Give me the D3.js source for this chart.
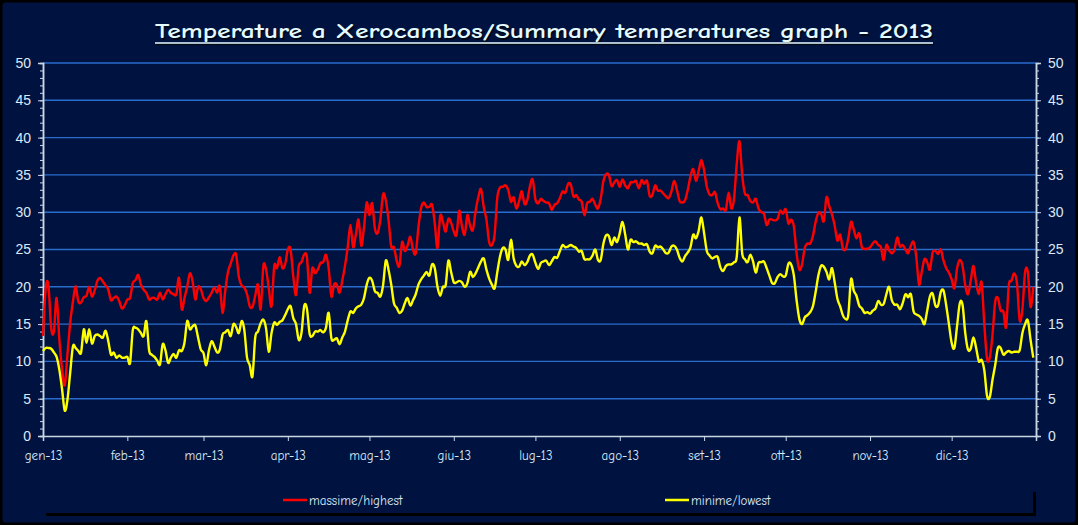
<!DOCTYPE html>
<html>
<head>
<meta charset="utf-8">
<script src="https://cdn.jsdelivr.net/npm/d3@7/dist/d3.min.js"></script>
<style>
  html, body { margin: 0; padding: 0; background: #ffffff; }
  svg { display: block; }
</style>
</head>
<body>
<svg id="chart" width="1078" height="525"></svg>
<script>
// ---------------- DATA ----------------
const titleText = "Temperature a Xerocambos/Summary temperatures graph - 2013";
const startDate = Date.UTC(2013, 0, 1);
const monthLabels = ["gen-13","feb-13","mar-13","apr-13","mag-13","giu-13","lug-13","ago-13","set-13","ott-13","nov-13","dic-13"];
const yTicks = [0,5,10,15,20,25,30,35,40,45,50];
const seriesNames = ["massime/highest", "minime/lowest"];

// daily maximum temperatures (1 Jan .. 31 Dec 2013)
const highs = [
13.4,19.8,20.2,14.5,14,18.5,13,9,6.8,11,15.2,18,20.1,18,17.9,18.6,18.8,20,18.7,19.5,
20.8,21.2,20.7,20.2,19.6,18.2,18.5,18.7,18.1,17.1,17.5,18.3,18.5,20.5,20.9,21.6,20.3,19.6,19.2,18.3,
18.5,18.5,18.3,19.2,18.3,19,19.6,19.2,19,19,21.2,17,18.5,20,21.8,20.7,18.3,20,19.7,18.5,
18.1,18.6,19.2,19.9,19.2,20.1,16.5,19.5,22,23.1,24.2,24.3,21.3,20.2,19.9,19,17.4,17.3,18.8,20.3,
17,22.8,22.3,19.8,17.4,22.8,22.5,24,22.5,23,25,25,21.4,18.9,22.7,23.3,24.3,24,19.2,22.5,
21.8,22.3,23.2,23.3,24.3,22.5,18.7,20.3,20.3,19.2,20.8,22.8,25.3,28.3,25.3,27,29,25.5,28,31.3,
29.6,31.2,27.8,27.2,29,32.4,31.6,29,25.4,25.3,23.5,22.8,26,24.8,25.5,26.7,25,24.5,28,30.6,
31.3,30.7,30.7,31,28.5,25.2,29.5,28.7,27.4,29.1,28.6,27.4,27,30.2,28.1,27,29.6,28.2,27.6,30.1,
32,33.1,30.7,29,26,25.6,27,32,33.3,33.4,33.6,33,31.4,32,30.5,31.5,32.8,31.1,31.6,33.5,
34.4,31.7,31.2,31.8,31.5,31.3,31.2,30.3,31,31.2,31.9,32.8,32.6,33.8,33.7,32.1,32.3,31.7,31.4,29.6,
31.2,31.4,31.8,31,30.5,31.8,34.2,35.1,35,33.5,34,34.3,33.4,34.4,33.6,33.2,34,34,34.2,33.2,
34.3,33.8,34.2,32.2,32.3,33.6,32.9,32.9,32.5,32.1,31.9,32.8,34.2,33,31.5,31.3,31.6,33,34.8,35.8,
34.2,35.5,37,35.6,33.4,32.4,32.3,32.7,31.2,30.4,30.5,30.3,32.6,30.5,31.8,36.5,39.5,35,32.5,32.3,
31.5,31.3,31.8,30.5,30,29.8,28.3,29,29,28.9,29.1,30.2,29.8,30.4,28.5,29,28.1,24.5,22.3,23,
25.2,25.8,25.8,26.8,28.7,29.9,29.8,28.8,32,30.8,29.7,28.2,26.2,27,25.2,25,26.5,28.7,27.7,26.5,
27.2,25.3,25.1,25.1,25.3,25.8,26.1,25.6,25.3,23.6,25.6,24.9,24.5,25,26.6,25.4,25.6,25,24.5,25.5,
26,24,20.3,22,23.7,23.3,22.3,24.6,24.8,24.4,25,23.5,22.5,21.9,21,19.8,22.5,23.6,22.8,20.2,
19,20.8,22.8,20.5,19,20.6,15,10.4,10.5,13.5,18,18.5,16.8,16.7,14.6,20.2,20.8,21.8,20.5,15.5,
17,22,22,17.3,20
];

// daily minimum temperatures (1 Jan .. 31 Dec 2013)
const lows = [
11.4,11.8,11.8,11.7,11.2,10.6,8.9,6.3,3.4,4.9,8.5,12,11.8,11.4,11.2,14.3,12.5,14.3,12.4,13.4,
13.6,13.4,13.2,14.1,12.7,10.9,11.2,10.5,10.8,10.5,10.5,10.6,9.8,14.2,14.5,14.3,13.8,13.4,15.4,11.5,
10.9,10.6,10.1,9.6,12.3,11.5,9.8,10.5,11,10.5,11.5,11.4,12.5,15.4,14.3,14.7,14.8,13.2,11.6,11.1,
9.5,11.5,12.7,12,11.2,11.6,13.6,13.9,14.2,13.4,15,14.6,13.8,15.4,14.2,10.5,9.5,8,13.2,14,
15.1,15.6,14.4,11.3,13.8,15.2,14.9,15.3,15.5,16.2,17,17.4,15.8,15,12.9,13.8,17.4,17.1,13.7,13.4,
14,14,14.2,13.9,14.5,16.5,13.1,12.9,13.1,12.3,13.2,14,15.5,16.7,16.5,17.1,17.4,17.6,18.5,20.3,
21.2,20.8,19.4,19.2,18.7,20.2,23.5,22.3,20.3,17.8,17.2,16.5,16.8,17.8,18.5,17.5,18.2,19,20.3,21,
21.5,22,21.5,23,22.5,20,18.8,20,20.2,23.5,22,20.6,20.6,20.8,20.6,20,20.5,22,21.3,21.8,
22.6,23.4,23.8,22.3,21.1,20.3,19.8,22,24.1,25.2,25,23.6,26.3,23.8,22.8,22.7,23.4,22.9,23.3,24.2,
24.3,23.2,22.4,23.2,23.4,23.5,22.9,23.4,24,23.9,24.8,25.6,25.3,25.4,25.6,25.4,25.2,24.7,24.8,23.7,
23.7,23.7,24.2,25,23.6,23.6,25.8,26.9,26.8,25.6,26.6,26,27.2,28.7,27,25,26.3,26,26.1,25.8,
25.8,25.6,25.7,24.7,24.5,25.5,25.3,25.4,25,24.5,24.6,25.4,25.5,25,23.9,23.4,24.1,24.6,25.3,27,
26.5,27.5,29.3,27.2,24.8,24.2,23.8,24,24,22.6,22.1,22.8,23,23,23.3,24,29.3,24.5,23.7,23.3,
24.3,23.4,21.9,23.2,23.3,23.4,22.5,21.5,20.5,20.5,21.3,21.7,21.4,21.5,23.1,23,21.5,18.2,15.7,15,
15.9,16.2,16.6,17.4,19.3,21.5,22.8,22.7,22,21,22.5,20.6,18.4,17.4,16.2,15.7,16.2,21,19.5,18.8,
17.5,17.1,16.5,16.6,16.4,16.8,17.1,18.1,17.6,17.7,19,20,18.2,17.6,17.6,17,17.8,19,18.6,19,
16.7,16.3,16.1,15.7,15,16.8,18.7,19.1,17.5,17.5,19.3,19.5,17.5,15,12.5,11.8,14.8,17.8,17.6,13.8,
11.6,11.7,13.2,11.8,10,10.2,8.8,5.4,5.2,7.5,9.5,11.8,11.8,10.9,11.2,11.4,11.2,11.3,11.3,11.5,
13.8,15,15.5,12.9,10.5
];

// ---------------- LAYOUT ----------------
const W = 1078, H = 525;
const plot = { left: 43, right: 1036, top: 63, bottom: 436 };
const bg = "#001340";
const textCol = "#dbe9f7";
const gridCol = "#2a6ccc";
const axisCol = "#c9d6e4";

const svg = d3.select("#chart");

// background + outer frame
svg.append("rect").attr("x", 0).attr("y", 0).attr("width", W).attr("height", H).attr("fill", "#000000");
svg.append("rect").attr("x", 1.5).attr("y", 1.5).attr("width", W - 3).attr("height", H - 3)
   .attr("rx", 4).attr("fill", bg).attr("stroke", "#000000").attr("stroke-width", 2);

const x = d3.scaleUtc()
  .domain([startDate, d3.utcDay.offset(new Date(startDate), 365)])
  .range([plot.left, plot.right]);
const y = d3.scaleLinear().domain([0, 50]).range([plot.bottom, plot.top]);

const dates = highs.map((_, i) => d3.utcDay.offset(new Date(startDate), i));

// gridlines
svg.append("g").selectAll("line")
  .data(yTicks.filter(v => v > 0))
  .join("line")
  .attr("x1", plot.left).attr("x2", plot.right)
  .attr("y1", d => y(d)).attr("y2", d => y(d))
  .attr("stroke", gridCol).attr("stroke-width", 1.4);

// title
const titleX = W / 2 + 5;
svg.append("text")
  .attr("x", titleX + 1.5).attr("y", 39.5)
  .attr("text-anchor", "middle")
  .attr("font-family", "'Comic Sans MS','Comic Neue','DejaVu Sans',sans-serif")
  .attr("font-weight", "bold").attr("font-size", 21)
  .attr("textLength", 778).attr("lengthAdjust", "spacingAndGlyphs")
  .attr("fill", "#000818").text(titleText);
svg.append("text")
  .attr("x", titleX).attr("y", 38)
  .attr("text-anchor", "middle")
  .attr("font-family", "'Comic Sans MS','Comic Neue','DejaVu Sans',sans-serif")
  .attr("font-weight", "bold").attr("font-size", 21)
  .attr("textLength", 778).attr("lengthAdjust", "spacingAndGlyphs")
  .attr("fill", "#e6fbff").text(titleText);
svg.append("line").attr("x1", titleX - 389 + 1).attr("x2", titleX + 389 + 1)
  .attr("y1", 44.5).attr("y2", 44.5).attr("stroke", "#000818").attr("stroke-width", 1.5);
svg.append("line").attr("x1", titleX - 389).attr("x2", titleX + 389)
  .attr("y1", 43).attr("y2", 43).attr("stroke", "#e6fbff").attr("stroke-width", 1.6);

// axes
function styleAxis(g) {
  g.select(".domain").attr("stroke", axisCol).attr("stroke-width", 1.5);
  g.selectAll(".tick line").attr("stroke", axisCol).attr("stroke-width", 1);
  g.selectAll(".tick text").attr("fill", textCol);
}
const minorTicks = d3.range(0, 51, 1);

// left minor ticks
svg.append("g").attr("transform", `translate(${plot.left},0)`)
  .call(d3.axisLeft(y).tickValues(minorTicks).tickSize(3).tickFormat(""))
  .call(styleAxis);
// left major
svg.append("g").attr("transform", `translate(${plot.left},0)`)
  .call(d3.axisLeft(y).tickValues(yTicks).tickSize(5).tickPadding(7))
  .call(styleAxis)
  .call(g => g.selectAll(".tick text")
    .attr("font-family", "'Liberation Sans',Arial,sans-serif").attr("font-size", 14));
// right minor
svg.append("g").attr("transform", `translate(${plot.right},0)`)
  .call(d3.axisRight(y).tickValues(minorTicks).tickSize(3).tickFormat(""))
  .call(styleAxis);
// right major
svg.append("g").attr("transform", `translate(${plot.right},0)`)
  .call(d3.axisRight(y).tickValues(yTicks).tickSize(5).tickPadding(7))
  .call(styleAxis)
  .call(g => g.selectAll(".tick text")
    .attr("font-family", "'Liberation Sans',Arial,sans-serif").attr("font-size", 14));

// bottom axis
const monthStarts = d3.utcMonth.range(new Date(startDate), d3.utcDay.offset(new Date(startDate), 365));
svg.append("g").attr("transform", `translate(0,${plot.bottom})`)
  .call(d3.axisBottom(x).tickValues(monthStarts).tickSize(5).tickPadding(10)
    .tickFormat((d, i) => monthLabels[i]))
  .call(styleAxis)
  .call(g => g.selectAll(".tick text")
    .attr("font-family", "'Comic Sans MS','Comic Neue','DejaVu Sans Condensed','DejaVu Sans',sans-serif")
    .attr("font-size", 13));

// lines
const line = d3.line()
  .x((d, i) => x(dates[i]))
  .y(d => y(d))
  .curve(d3.curveCatmullRom.alpha(0));

const clip = svg.append("clipPath").attr("id", "plotclip").append("rect")
  .attr("x", plot.left).attr("y", plot.top - 5).attr("width", plot.right - plot.left).attr("height", plot.bottom - plot.top + 5);

svg.append("path").datum(highs)
  .attr("d", line).attr("fill", "none")
  .attr("stroke", "#ff0000").attr("stroke-width", 2.4).attr("stroke-linejoin", "round");
svg.append("path").datum(lows)
  .attr("d", line).attr("fill", "none")
  .attr("stroke", "#ffff00").attr("stroke-width", 2.4).attr("stroke-linejoin", "round");

// legend
const legend = svg.append("g");
legend.append("rect").attr("x", 46).attr("y", 492).attr("width", 990).attr("height", 24).attr("fill", "#000000");
legend.append("rect").attr("x", 43).attr("y", 489).attr("width", 990).attr("height", 24).attr("fill", bg);
const legendItems = [
  { name: seriesNames[0], color: "#ff0000", x: 283 },
  { name: seriesNames[1], color: "#ffff00", x: 665 }
];
const li = legend.selectAll("g.item").data(legendItems).join("g").attr("class", "item");
li.append("line")
  .attr("x1", d => d.x).attr("x2", d => d.x + 24)
  .attr("y1", 500).attr("y2", 500)
  .attr("stroke", d => d.color).attr("stroke-width", 2.5);
li.append("text")
  .attr("x", d => d.x + 26).attr("y", 504.5)
  .attr("font-family", "'Comic Sans MS','Comic Neue','DejaVu Sans Condensed','DejaVu Sans',sans-serif")
  .attr("font-size", 13)
  .attr("fill", textCol)
  .text(d => d.name);
</script>
</body>
</html>
